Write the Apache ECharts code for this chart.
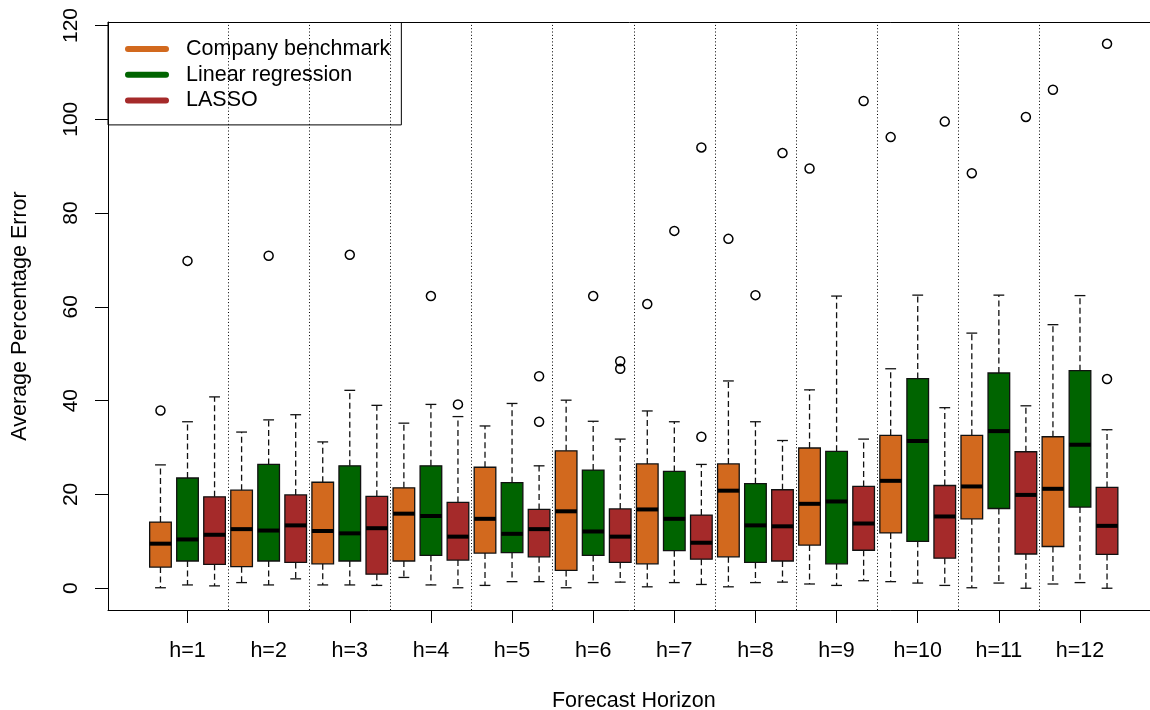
<!DOCTYPE html>
<html>
<head>
<meta charset="utf-8">
<title>Average Percentage Error by Forecast Horizon</title>
<script src="https://cdn.jsdelivr.net/npm/echarts@6/dist/echarts.min.js"></script>
<style>
  html, body { margin: 0; padding: 0; background: #ffffff; }
  #chart { width: 1150px; height: 710px; }
</style>
</head>
<body>
<div id="chart"></div>
<script>
// Forecast horizons (x groups) and the three forecasting methods
const horizons = ['h=1', 'h=2', 'h=3', 'h=4', 'h=5', 'h=6', 'h=7', 'h=8', 'h=9', 'h=10', 'h=11', 'h=12'];
const methods = ['Company benchmark', 'Linear regression', 'LASSO'];

// Box statistics per horizon: [lower whisker, Q1, median, Q3, upper whisker]
const benchmarkStats = [
  [0.1, 4.5, 9.5, 14.1, 26.3],
  [1.2, 4.6, 12.6, 20.9, 33.3],
  [0.7, 5.2, 12.2, 22.6, 31.2],
  [2.3, 5.8, 15.9, 21.4, 35.2],
  [0.6, 7.5, 14.8, 25.8, 34.6],
  [0.1, 3.8, 16.4, 29.3, 40.1],
  [0.3, 5.2, 16.8, 26.5, 37.8],
  [0.3, 6.7, 20.8, 26.5, 44.2],
  [0.9, 9.2, 18.0, 29.9, 42.3],
  [1.4, 11.8, 22.9, 32.6, 46.8],
  [0.1, 14.8, 21.7, 32.6, 54.4],
  [0.9, 8.9, 21.2, 32.3, 56.2]
];
const regressionStats = [
  [0.7, 5.8, 10.4, 23.5, 35.5],
  [0.7, 5.8, 12.3, 26.4, 35.9],
  [0.7, 5.8, 11.7, 26.1, 42.2],
  [0.7, 7.0, 15.4, 26.1, 39.2],
  [1.4, 7.6, 11.6, 22.5, 39.4],
  [1.2, 7.0, 12.1, 25.2, 35.6],
  [1.2, 8.0, 14.8, 24.9, 35.5],
  [1.2, 5.5, 13.4, 22.3, 35.5],
  [0.6, 5.2, 18.5, 29.2, 62.3],
  [1.1, 10.0, 31.4, 44.7, 62.5],
  [1.1, 17.0, 33.5, 45.9, 62.5],
  [1.2, 17.3, 30.6, 46.4, 62.4]
];
const lassoStats = [
  [0.5, 5.1, 11.4, 19.5, 40.8],
  [2.0, 5.5, 13.4, 19.9, 37.0],
  [0.6, 3.0, 12.8, 19.6, 39.0],
  [0.1, 6.0, 11.0, 18.3, 36.6],
  [1.4, 6.7, 12.6, 16.8, 26.1],
  [1.3, 5.5, 11.0, 16.9, 31.8],
  [0.8, 6.2, 9.7, 15.6, 26.4],
  [1.3, 5.8, 13.2, 21.0, 31.5],
  [1.6, 8.1, 13.8, 21.7, 31.8],
  [0.6, 6.4, 15.3, 21.9, 38.5],
  [0.0, 7.3, 19.9, 29.1, 38.9],
  [0.0, 7.2, 13.3, 21.5, 33.8]
];

// Outlying values per horizon
const benchmarkOutliers = [[37.9], [], [], [], [], [], [60.6], [74.5], [89.5], [96.2], [88.5], [106.3]];
const regressionOutliers = [[69.8], [70.9], [71.1], [62.3], [], [62.3], [76.2], [62.5], [], [], [], []];
const lassoOutliers = [[], [], [], [39.2], [35.5, 45.2], [46.8, 48.4], [32.3, 94.0], [92.8], [103.9], [99.5], [100.5], [44.6, 116.1]];

// Y axis tick values
const yTicks = [0, 20, 40, 60, 80, 100, 120];

const methodColors = ['#D2691E', '#006400', '#A52A2A'];
const FONT = "'Liberation Sans', Arial, Helvetica, sans-serif";

const statsByMethod = [benchmarkStats, regressionStats, lassoStats];
const outliersByMethod = [benchmarkOutliers, regressionOutliers, lassoOutliers];
const nMethods = methods.length;
const nBoxes = horizons.length * nMethods;

// 1-based slot of each box: horizons side by side, methods within a horizon
const slotOf = (h, m) => h * nMethods + m + 1;
const groupCenters = horizons.map((_, h) => slotOf(h, (nMethods - 1) / 2));
const groupSeparators = horizons.slice(1).map((_, h) => slotOf(h, nMethods - 1) + 0.5);

// Axis ranges: data extent padded by 4% on each side
let lo = Infinity, hi = -Infinity;
statsByMethod.forEach(s => s.forEach(r => r.forEach(v => { lo = Math.min(lo, v); hi = Math.max(hi, v); })));
outliersByMethod.forEach(s => s.forEach(r => r.forEach(v => { lo = Math.min(lo, v); hi = Math.max(hi, v); })));
const yPad = 0.04 * (hi - lo);
const xPad = 0.04 * nBoxes;
const xMin = 0.5 - xPad, xMax = nBoxes + 0.5 + xPad;

function renderBox(params, api) {
  const x = api.value(0);
  const pt = k => api.coord([x, api.value(k)]);
  const cx = pt(1)[0];
  const yLo = pt(1)[1], yQ1 = pt(2)[1], yMed = pt(3)[1], yQ3 = pt(4)[1], yHi = pt(5)[1];
  const boxW = api.size([0.8, 0])[0];
  const capW = boxW * 0.5;
  const fill = api.visual('color');
  const dashed = { stroke: '#111', lineWidth: 1.3, lineDash: [6, 3.5] };
  const solid = { stroke: '#111', lineWidth: 1.3 };
  return {
    type: 'group',
    children: [
      { type: 'line', shape: { x1: cx, y1: yQ3, x2: cx, y2: yHi }, style: dashed },
      { type: 'line', shape: { x1: cx, y1: yQ1, x2: cx, y2: yLo }, style: dashed },
      { type: 'line', shape: { x1: cx - capW / 2, y1: yHi, x2: cx + capW / 2, y2: yHi }, style: solid },
      { type: 'line', shape: { x1: cx - capW / 2, y1: yLo, x2: cx + capW / 2, y2: yLo }, style: solid },
      { type: 'rect', shape: { x: cx - boxW / 2, y: yQ3, width: boxW, height: yQ1 - yQ3 },
        style: { fill: fill, stroke: '#111', lineWidth: 1.3 } },
      { type: 'line', shape: { x1: cx - boxW / 2, y1: yMed, x2: cx + boxW / 2, y2: yMed },
        style: { stroke: '#000', lineWidth: 4 } }
    ]
  };
}

const series = [];
methods.forEach((name, m) => {
  series.push({
    name: name,
    type: 'custom',
    renderItem: renderBox,
    itemStyle: { color: methodColors[m] },
    encode: { x: 0, y: [1, 2, 3, 4, 5] },
    data: statsByMethod[m].map((s, h) => [slotOf(h, m)].concat(s)),
    silent: true,
    z: 3,
    markLine: m === 0 ? {
      silent: true,
      symbol: ['none', 'none'],
      label: { show: false },
      lineStyle: { color: '#000', width: 1, type: [1, 2.3] },
      data: groupSeparators.map(v => ({ xAxis: v }))
    } : undefined
  });
});

const outlierPoints = [];
outliersByMethod.forEach((s, m) => s.forEach((vals, h) => vals.forEach(v => outlierPoints.push([slotOf(h, m), v]))));
series.push({
  name: 'outliers',
  type: 'scatter',
  symbol: 'circle',
  symbolSize: 9,
  itemStyle: { color: 'rgba(0,0,0,0)', borderColor: '#000', borderWidth: 1.5, opacity: 1 },
  data: outlierPoints,
  silent: true,
  z: 4
});

const chart = echarts.init(document.getElementById('chart'), null, { renderer: 'canvas' });
chart.setOption({
  animation: false,
  backgroundColor: '#ffffff',
  textStyle: { fontFamily: FONT, color: '#000' },
  grid: { left: 108, right: -9.5, top: 22, bottom: 100, outerBoundsMode: 'none', containLabel: false },
  legend: {
    data: methods,
    orient: 'vertical',
    left: 108,
    top: 22.5,
    padding: [15.5, 11, 13.5, 17],
    itemGap: 3.7,
    itemWidth: 44,
    itemHeight: 6,
    icon: 'path://M3,0 L41,0 A3,3 0 0 1 41,6 L3,6 A3,3 0 0 1 3,0 Z',
    borderColor: '#000',
    borderWidth: 1,
    selectedMode: false,
    textStyle: { fontFamily: FONT, fontSize: 21.5, color: '#000', lineHeight: 22, padding: [0, 0, 0, 12] }
  },
  xAxis: [
    {
      type: 'value',
      position: 'bottom',
      min: xMin,
      max: xMax,
      name: 'Forecast Horizon',
      nameLocation: 'middle',
      nameGap: 80,
      nameTextStyle: { fontFamily: FONT, fontSize: 21.5, color: '#000' },
      axisLine: { show: true, onZero: false, lineStyle: { color: '#000', width: 1 } },
      axisTick: { show: true, length: 13, customValues: groupCenters, lineStyle: { color: '#000', width: 1 } },
      axisLabel: {
        customValues: groupCenters,
        margin: 30,
        fontFamily: FONT,
        fontSize: 21.5,
        color: '#000',
        formatter: v => horizons[Math.round((v - groupCenters[0]) / nMethods)]
      },
      splitLine: { show: false }
    },
    {
      type: 'value',
      position: 'top',
      min: xMin,
      max: xMax,
      axisLine: { show: true, onZero: false, lineStyle: { color: '#000', width: 1 } },
      axisTick: { show: false },
      axisLabel: { show: false },
      splitLine: { show: false }
    }
  ],
  yAxis: {
    type: 'value',
    min: lo - yPad,
    max: hi + yPad,
    name: 'Average Percentage Error',
    nameLocation: 'middle',
    nameRotate: 90,
    nameGap: 77,
    nameTextStyle: { fontFamily: FONT, fontSize: 21.5, color: '#000' },
    axisLine: { show: true, onZero: false, lineStyle: { color: '#000', width: 1 } },
    axisTick: { show: true, length: 13, customValues: yTicks, lineStyle: { color: '#000', width: 1 } },
    axisLabel: { customValues: yTicks, rotate: 90, margin: 26, fontFamily: FONT, fontSize: 21, color: '#000' },
    splitLine: { show: false }
  },
  series: series
});
</script>
</body>
</html>
